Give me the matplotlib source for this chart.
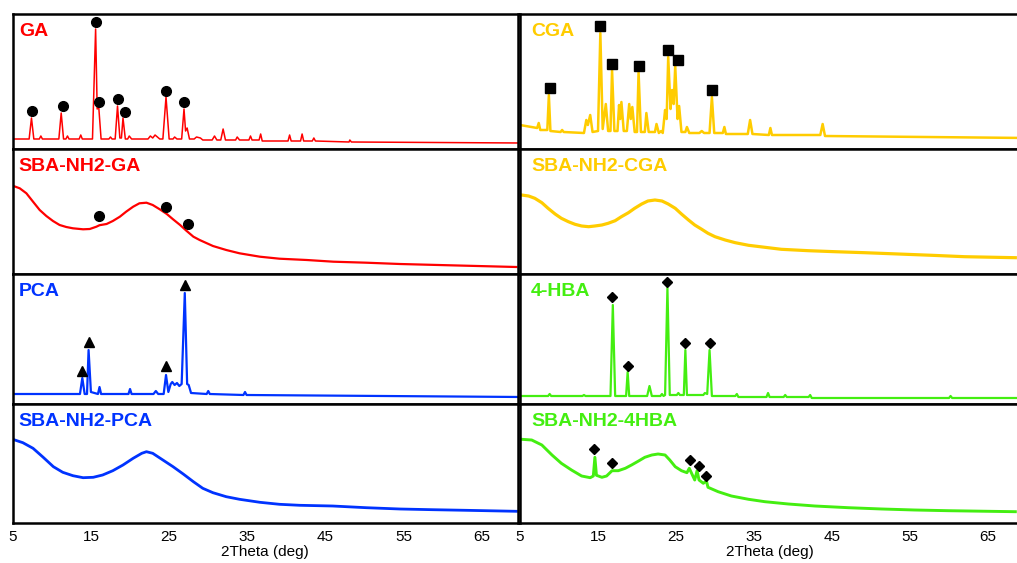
import numpy as np
import matplotlib.pyplot as plt

plt.rcParams['font.family'] = ['Liberation Sans', 'DejaVu Sans']

# XRD traces: (2theta, relative intensity) points
ga_x = [5, 7.1, 7.4, 7.7, 8.4, 8.6, 8.8, 10.9, 11.2, 11.5, 11.8, 12.0, 12.2, 13.5, 13.7, 13.9,
        15.2, 15.6, 15.8, 16.0, 16.3, 17.3, 17.5, 17.7, 18.1, 18.4, 18.7, 18.9, 19.1, 19.4, 19.7, 19.9,
        20.2, 22.3, 22.6, 22.9, 23.2, 23.5, 23.8, 24.2, 24.6, 25.0, 25.5, 25.7, 26.0, 26.6, 26.9,
        27.1, 27.3, 27.6, 28.2, 28.5, 29.0, 29.3, 30.5, 30.8, 31.1, 31.6, 31.9, 32.2, 33.5, 33.7,
        34.0, 35.2, 35.4, 35.6, 36.5, 36.7, 36.9, 40.2, 40.4, 40.6, 41.8, 42.0, 42.2, 43.3, 43.5,
        43.7, 48.0, 48.1, 48.3, 70]
ga_y = [10, 10, 31, 10, 10, 13, 10, 10, 36, 10, 10, 13, 10, 10, 14, 10,
        10, 120, 40, 42, 10, 10, 12, 10, 10, 43, 11, 11, 31, 10, 10, 13,
        10, 10, 13, 11, 14, 12, 10, 10, 52, 10, 10, 12, 10, 10, 40,
        18, 21, 10, 10, 12, 11, 9, 9, 13, 9, 9, 20, 9, 9, 12,
        9, 9, 13, 9, 9, 15, 8, 8, 14, 8, 8, 15, 8, 8, 11,
        8, 7, 9, 7, 6]

cga_x = [5, 7.2, 7.4, 7.6, 8.5, 8.7, 8.9, 10.2, 10.4, 10.6, 13.2, 13.5, 13.7, 14.0, 14.3, 15.0,
         15.3, 15.6, 16.0, 16.3, 16.6, 16.8, 17.1, 17.5, 17.7, 17.85, 18.0, 18.3, 18.7, 19.0, 19.2,
         19.4, 19.7, 20.0, 20.2, 20.5, 21.0, 21.2, 21.5, 22.3, 22.5, 22.8, 23.1, 23.3, 23.6, 23.8,
         24.0, 24.3, 24.5, 24.7, 24.9, 25.2, 25.4, 25.7, 26.2, 26.4, 26.7, 28.0, 28.3, 28.6, 29.3,
         29.6, 29.9, 31.0, 31.2, 31.4, 34.2, 34.5, 34.8, 36.9, 37.1, 37.3, 43.5, 43.8, 44.1, 70]
cga_y = [24, 21, 26, 19, 19, 54, 18, 17, 19, 17, 16, 29, 24, 34, 17, 18,
         116, 20, 45, 18, 18, 79, 18, 18, 44, 30, 47, 18, 18, 45, 30,
         42, 17, 17, 77, 17, 17, 36, 17, 17, 25, 16, 18, 16, 39, 30,
         92, 40, 59, 45, 83, 30, 43, 17, 17, 22, 16, 16, 18, 16, 16,
         52, 16, 16, 22, 15, 15, 29, 15, 14, 21, 14, 14, 25, 13, 11]

pca_x = [5, 13.6, 13.9, 14.2, 14.5, 14.7, 15.0, 15.9, 16.1, 16.3, 19.8, 20.0, 20.2, 23.0, 23.3,
         23.6, 24.3, 24.6, 24.9, 25.2, 25.4, 25.7, 26.0, 26.3, 26.6, 27.0, 27.3, 27.5, 27.8, 29.8,
         30.0, 30.2, 34.5, 34.7, 34.9, 70]
pca_y = [10, 10, 26, 10, 10, 54, 12, 10, 17, 10, 10, 15, 10, 10, 13,
         10, 10, 29, 12, 20, 22, 19, 21, 18, 20, 111, 20, 19, 11, 10,
         13, 10, 9, 12, 9, 7]

hba_x = [5, 8.6, 8.8, 9.0, 13.0, 13.2, 13.4, 16.6, 16.9, 17.2, 18.6, 18.8, 19.0, 21.3, 21.6,
         21.9, 23.0, 23.2, 23.4, 23.6, 23.9, 24.2, 25.1, 25.3, 25.5, 26.0, 26.2, 26.4, 28.5, 28.7,
         29.0, 29.3, 29.6, 32.6, 32.8, 33.0, 36.6, 36.8, 37.0, 38.8, 39.0, 39.2, 42.0, 42.2, 42.4,
         60.0, 60.2, 60.4, 70]
hba_y = [8, 8, 10, 8, 8, 9, 8, 8, 99, 8, 8, 32, 8, 8, 18,
         8, 8, 10, 8, 9, 116, 9, 9, 11, 9, 9, 54, 9, 9, 11,
         10, 54, 8, 8, 10, 7, 7, 11, 7, 7, 9, 7, 7, 9, 6,
         6, 8, 6, 6]

sba_ga_x = [5.1, 5.9, 6.75, 7.6, 8.45, 9.3, 10.15, 11.0, 11.85, 12.7, 14.0, 14.85, 15.7, 16.1,
            17.0, 17.8, 18.7, 19.5, 20.4, 21.2, 22.1, 22.9, 23.8, 24.7, 25.5, 26.4, 27.2, 28.1,
            28.9, 30.6, 32.3, 34.0, 36.6, 39.1, 42.6, 46.0, 50.2, 54.5, 60.9, 69.4]
sba_ga_y = [88, 85.7, 80.7, 72.3, 64, 58, 53, 49, 47, 45.7, 44.7, 45, 47.3, 48.8,
            50, 53, 57.3, 62.3, 67.3, 70.7, 71.3, 69, 64.7, 60, 54.7, 49, 43.3, 37.3,
            34, 28, 24, 20.7, 17.3, 15.3, 14, 12.3, 11.3, 10, 8.7, 7]

sba_cga_x = [5.2, 6.1, 6.9, 7.8, 8.6, 9.5, 10.3, 11.2, 12.05, 12.9, 13.8, 14.6, 15.5, 16.3,
             17.2, 18.0, 18.9, 19.7, 20.6, 21.4, 22.3, 23.2, 24.0, 24.9, 25.7, 26.6, 27.4,
             28.3, 29.1, 30.0, 31.3, 32.6, 34.3, 36.4, 38.5, 42.0, 45.4, 49.2, 53.5, 57.8,
             62.0, 68.5]
sba_cga_y = [79, 78, 75.7, 71.3, 65.7, 60, 55.7, 52.3, 49.7, 48, 47.3, 48, 49, 50.7,
             53.3, 57.3, 61.3, 65.7, 70, 73, 74, 73, 70, 65.7, 60, 54, 49,
             44.7, 40.7, 37.3, 34, 31.3, 28.7, 26.7, 24.7, 23.3, 22.3, 21.3, 20, 18.7,
             17.3, 16.3]

sba_pca_x = [5.0, 6.3, 7.6, 8.9, 10.2, 11.4, 12.7, 14.0, 15.3, 16.5, 17.8, 19.1, 20.4, 21.5,
             22.1, 22.9, 24.2, 25.5, 26.8, 28.1, 29.3, 30.6, 32.3, 34.0, 36.6, 39.1, 41.7,
             45.9, 50.2, 54.5, 58.7, 62.9, 69.4]
sba_pca_y = [83.7, 80.3, 74.7, 65.7, 56.3, 50.7, 47.3, 45.3, 45.7, 48, 52.3, 58, 64.7, 69.7,
             71.3, 69.7, 63, 56.3, 49, 41.3, 34.7, 30.3, 26.3, 23.7, 20.7, 18.7, 17.7,
             17, 15.3, 14, 13.3, 12.7, 11.7]

sba_hba_x = [5.2, 6.5, 7.8, 9.1, 10.3, 11.6, 12.9, 14.0, 14.4, 14.6, 14.8, 15.5, 16.1, 16.8,
             17.6, 18.5, 19.3, 20.2, 21.0, 21.9, 22.7, 23.6, 24.2, 24.9, 25.7, 26.4, 26.7,
             27.0, 27.4, 27.7, 27.95, 28.5, 28.9, 29.1, 30.4, 32.1, 34.3, 36.4, 39.4, 42.8,
             47.1, 51.4, 55.6, 59.9, 68.5]
sba_hba_y = [83.7, 83, 78, 68, 59.7, 53, 47, 45.3, 47, 65.7, 47.7, 45.7, 47, 52.3,
             52.3, 54.7, 58, 62, 65.7, 68, 69, 68, 63, 56.3, 52.3, 50.3, 54.7,
             49.7, 43, 52.3, 43, 39.7, 42, 35.7, 31.3, 27, 23.7, 21.3, 19, 17,
             15.3, 14, 13, 12.3, 11.3]

# marker positions (2theta, height) above the labelled reflections
ga_mk_x = [7.5, 11.4, 15.6, 16.0, 18.5, 19.3, 24.6, 26.9]
ga_mk_y = [38, 43, 127, 47, 50, 37, 58, 47]
sba_ga_mk_x = [16.0, 24.6, 27.4]
sba_ga_mk_y = [58, 67, 50]
cga_mk_x = [8.8, 15.3, 16.8, 20.2, 24.0, 25.2, 29.6]
cga_mk_y = [61, 123, 85, 83, 99, 89, 59]
pca_mk_x = [13.8, 14.7, 24.6, 27.0]
pca_mk_y = [33, 62, 38, 119]
hba_mk_x = [16.8, 18.8, 23.9, 26.2, 29.3]
hba_mk_y = [107, 38, 122, 61, 61]
sba_hba_mk_x = [14.5, 16.8, 26.8, 27.9, 28.9]
sba_hba_mk_y = [74, 60, 63, 57, 47]

RED, YEL, BLU, GRN = '#ff0000', '#ffcc00', '#0033ff', '#44ee11'

W, H = 1017, 563
fig = plt.figure(figsize=(W / 100, H / 100), dpi=100)

rows = [(14, 149), (149, 274), (274, 404), (404, 523)]
cols = [(12.7, 518, 69.6), (520, 1020, 69.1)]

panels = [
    # col, row, name, color, x, y, marker x, marker y, marker, lw
    (0, 0, 'GA', RED, ga_x, ga_y, ga_mk_x, ga_mk_y, 'o', 1.1),
    (0, 1, 'SBA-NH2-GA', RED, sba_ga_x, sba_ga_y, sba_ga_mk_x, sba_ga_mk_y, 'o', 1.6),
    (0, 2, 'PCA', BLU, pca_x, pca_y, pca_mk_x, pca_mk_y, '^', 1.6),
    (0, 3, 'SBA-NH2-PCA', BLU, sba_pca_x, sba_pca_y, [], [], '^', 2.0),
    (1, 0, 'CGA', YEL, cga_x, cga_y, cga_mk_x, cga_mk_y, 's', 1.8),
    (1, 1, 'SBA-NH2-CGA', YEL, sba_cga_x, sba_cga_y, [], [], 's', 2.3),
    (1, 2, '4-HBA', GRN, hba_x, hba_y, hba_mk_x, hba_mk_y, 'D', 1.6),
    (1, 3, 'SBA-NH2-4HBA', GRN, sba_hba_x, sba_hba_y, sba_hba_mk_x, sba_hba_mk_y, 'D', 2.1),
]

msize = {'o': 7, '^': 7.5, 's': 7.5, 'D': 5.5}

for c, r, name, color, xs, ys, mx, my, mk, lw in panels:
    x0, x1, xmax = cols[c]
    y0, y1 = rows[r]
    ax = fig.add_axes([x0 / W, 1 - y1 / H, (x1 - x0) / W, (y1 - y0) / H])
    ax.plot(xs, ys, color=color, lw=lw)
    if mx:
        ax.plot(mx, my, ls='none', marker=mk, color='black', ms=msize[mk], zorder=5)
    ax.set_xlim(5, xmax)
    ax.set_ylim(0, y1 - y0)
    ax.set_yticks([])
    ax.set_xticks(np.arange(5, 70, 10))
    ax.tick_params(axis='x', length=0, pad=5, labelsize=11)
    if r < 3:
        ax.tick_params(labelbottom=False)
    else:
        ax.set_xlabel('2Theta (deg)', fontsize=11, labelpad=1)
    for s in ax.spines.values():
        s.set_linewidth(1.8)
    ax.text(0.012 if c == 0 else 0.022, 1 - 9 / (y1 - y0), name, transform=ax.transAxes,
            color=color, fontsize=14, fontweight='bold', va='top', ha='left')

fig.savefig('out.png', dpi=100)
